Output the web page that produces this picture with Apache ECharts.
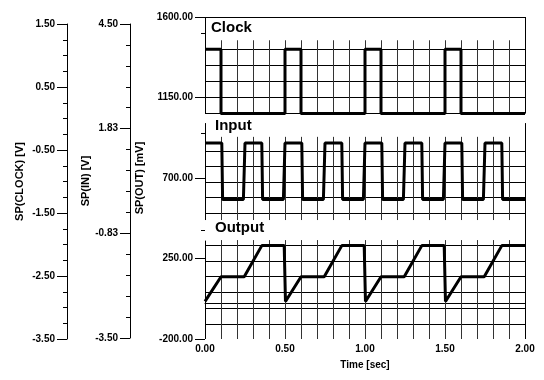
<!DOCTYPE html>
<html><head><meta charset="utf-8">
<script src="https://cdn.jsdelivr.net/npm/echarts@6/dist/echarts.min.js"></script>
<style>html,body{margin:0;padding:0;background:#fff}#c{width:544px;height:380px}</style>
</head><body><div id="c"></div>
<script>
// ---- waveform data (time in sec, value in mV on SP(OUT) scale) ----
const clockTimes  = [0,0.1,0.1,0.5,0.5,0.6,0.6,1.0,1.0,1.1,1.1,1.5,1.5,1.6,1.6,2.0];
const clockValues = [1420,1420,1060,1060,1420,1420,1060,1060,1420,1420,1060,1060,1420,1420,1060,1060];

const inputTimes  = [0,0.105,0.11,0.24,0.25,0.355,0.36,0.49,0.5,0.605,0.61,0.74,0.75,0.855,0.86,0.99,
                     1.0,1.105,1.11,1.24,1.25,1.355,1.36,1.49,1.5,1.605,1.61,1.74,1.75,1.855,1.86,2.0];
const inputValues = [895,895,580,580,895,895,580,580,895,895,580,580,895,895,580,580,
                     895,895,580,580,895,895,580,580,895,895,580,580,895,895,580,580];

const outputTimes  = [0,0.1,0.245,0.355,0.495,0.503,0.6,0.745,0.855,0.995,1.003,1.1,1.245,1.355,1.495,1.503,1.6,1.745,1.855,2.0];
const outputValues = [10,148,148,322,322,10,148,148,322,322,10,148,148,322,322,10,148,148,322,322];

// ---- axis ticks ----
const outTicks   = [-200,250,700,1150,1600];
const outShortTicks = [409,951,1510];
const clockTicks = [-3.5,-2.5,-1.5,-0.5,0.5,1.5];
const inTicks    = [-3.5,-0.8333333,1.8333333,4.5];
const timeTicks  = [0,0.5,1,1.5,2];

// ---- panel grid lines (mV) ----
const clockGridY  = [1060,1150,1240,1330,1420];
const inputGridY  = [505,590,675,765,850];
const outputGridY = [-115,-27,60,148,237,325];
const clockSpan  = [1060,1470];
const inputSpan  = [465,930];
const outputSpan = [-200,353];

function zip(a,b){return a.map((t,i)=>[t,b[i]]);}
const clockMinor=[];for(let k=0;k<=20;k++)clockMinor.push(-3.5+k*0.25);
const inMinor=[];for(let k=0;k<=15;k++)inMinor.push(-3.5+k*8/15);
const vTimes=[];for(let k=1;k<20;k++)vTimes.push(k/10);

const H='#000', V='#333', B='#000';
function seg(x1,y1,x2,y2,c){
  const ls={color:c,width:1,type:'solid'};
  return [{coord:[x1,y1],lineStyle:ls},{coord:[x2,y2],lineStyle:ls}];
}
const lines=[];
[clockGridY,inputGridY,outputGridY].forEach(arr=>arr.forEach(y=>lines.push(seg(0,y,2,y,H))));
[clockSpan,inputSpan,outputSpan].forEach(s=>vTimes.forEach(t=>lines.push(seg(t,s[0],t,s[1],V))));
// frame
lines.push(seg(0,1600,2,1600,B));
lines.push(seg(0,1060,0,1600,B));
lines.push(seg(0,465,0,1007,B));
lines.push(seg(0,-200,0,350,B));
lines.push(seg(2,1060,2,1600,B));
lines.push(seg(2,-200,2,1007,B));

const lblFont={fontFamily:'Liberation Sans',fontWeight:'bold',fontSize:10,color:'#000'};
const nameFont={fontFamily:'Liberation Sans',fontWeight:'bold',fontSize:11,color:'#000'};
const fmt=v=>Number(v).toFixed(2);

const chart=echarts.init(document.getElementById('c'),null,{renderer:'canvas'});
chart.setOption({
  animation:false,
  backgroundColor:'#fff',
  grid:[
    {left:205,right:19,top:17,bottom:41},
    {left:67,top:24,bottom:41,width:20},
    {left:130,top:24,bottom:42,width:20}
  ],
  xAxis:[
    {gridIndex:0,type:'value',min:0,max:2,interval:0.5,
     axisLine:{show:true,lineStyle:{color:'#000',width:1}},
     axisTick:{show:false},splitLine:{show:false},
     axisLabel:Object.assign({margin:5,formatter:fmt},lblFont),
     name:'Time [sec]',nameLocation:'middle',nameGap:21,nameTextStyle:lblFont},
    {gridIndex:1,type:'value',show:false},
    {gridIndex:2,type:'value',show:false}
  ],
  yAxis:[
    {gridIndex:0,type:'value',min:-200,max:1600,position:'left',
     axisLine:{show:false},splitLine:{show:false},
     axisTick:{show:true,customValues:outTicks,length:10,lineStyle:{color:'#000'}},
     axisLabel:Object.assign({customValues:outTicks,margin:12,formatter:fmt},lblFont),
     name:'SP(OUT) [mV]',nameLocation:'middle',nameRotate:90,nameGap:54,nameTextStyle:nameFont},
    {gridIndex:0,type:'value',min:-200,max:1600,position:'left',
     axisLine:{show:false},splitLine:{show:false},axisLabel:{show:false},
     axisTick:{show:true,customValues:outShortTicks,length:4,lineStyle:{color:'#000'}}},
    {gridIndex:1,type:'value',min:-3.5,max:1.5,position:'left',
     axisLine:{show:true,lineStyle:{color:'#000'}},splitLine:{show:false},
     axisTick:{show:true,customValues:clockTicks,length:10,lineStyle:{color:'#000'}},
     axisLabel:Object.assign({customValues:clockTicks,margin:12,formatter:fmt},lblFont),
     name:'SP(CLOCK) [V]',nameLocation:'middle',nameRotate:90,nameGap:42,nameTextStyle:nameFont},
    {gridIndex:1,type:'value',min:-3.5,max:1.5,position:'left',
     axisLine:{show:false},splitLine:{show:false},axisLabel:{show:false},
     axisTick:{show:true,customValues:clockMinor,length:4,lineStyle:{color:'#000'}}},
    {gridIndex:2,type:'value',min:-3.5,max:4.5,position:'left',
     axisLine:{show:true,lineStyle:{color:'#000'}},splitLine:{show:false},
     axisTick:{show:true,customValues:inTicks,length:10,lineStyle:{color:'#000'}},
     axisLabel:Object.assign({customValues:inTicks,margin:12,formatter:fmt},lblFont),
     name:'SP(IN) [V]',nameLocation:'middle',nameRotate:90,nameGap:32,nameTextStyle:nameFont},
    {gridIndex:2,type:'value',min:-3.5,max:4.5,position:'left',
     axisLine:{show:false},splitLine:{show:false},axisLabel:{show:false},
     axisTick:{show:true,customValues:inMinor,length:4,lineStyle:{color:'#000'}}}
  ],
  graphic:[
    {type:'text',x:211,y:28,style:{text:'Clock',font:'bold 15px "Liberation Sans"',fill:'#000',verticalAlign:'middle'}},
    {type:'text',x:215,y:126,style:{text:'Input',font:'bold 15px "Liberation Sans"',fill:'#000',verticalAlign:'middle'}},
    {type:'text',x:215,y:228,style:{text:'Output',font:'bold 15px "Liberation Sans"',fill:'#000',verticalAlign:'middle'}}
  ],
  series:[
    {type:'line',xAxisIndex:0,yAxisIndex:0,data:[],silent:true,z:1,
     markLine:{silent:true,z:1,symbol:['none','none'],label:{show:false},emphasis:{disabled:true},animation:false,data:lines}},
    {name:'Clock',type:'line',xAxisIndex:0,yAxisIndex:0,data:zip(clockTimes,clockValues),showSymbol:false,z:10,
     lineStyle:{color:'#000',width:3},emphasis:{disabled:true}},
    {name:'Input',type:'line',xAxisIndex:0,yAxisIndex:0,data:zip(inputTimes,inputValues),showSymbol:false,z:10,
     lineStyle:{color:'#000',width:3},emphasis:{disabled:true}},
    {name:'Output',type:'line',xAxisIndex:0,yAxisIndex:0,data:zip(outputTimes,outputValues),showSymbol:false,z:10,
     lineStyle:{color:'#000',width:3},emphasis:{disabled:true}}
  ]
});
</script></body></html>
